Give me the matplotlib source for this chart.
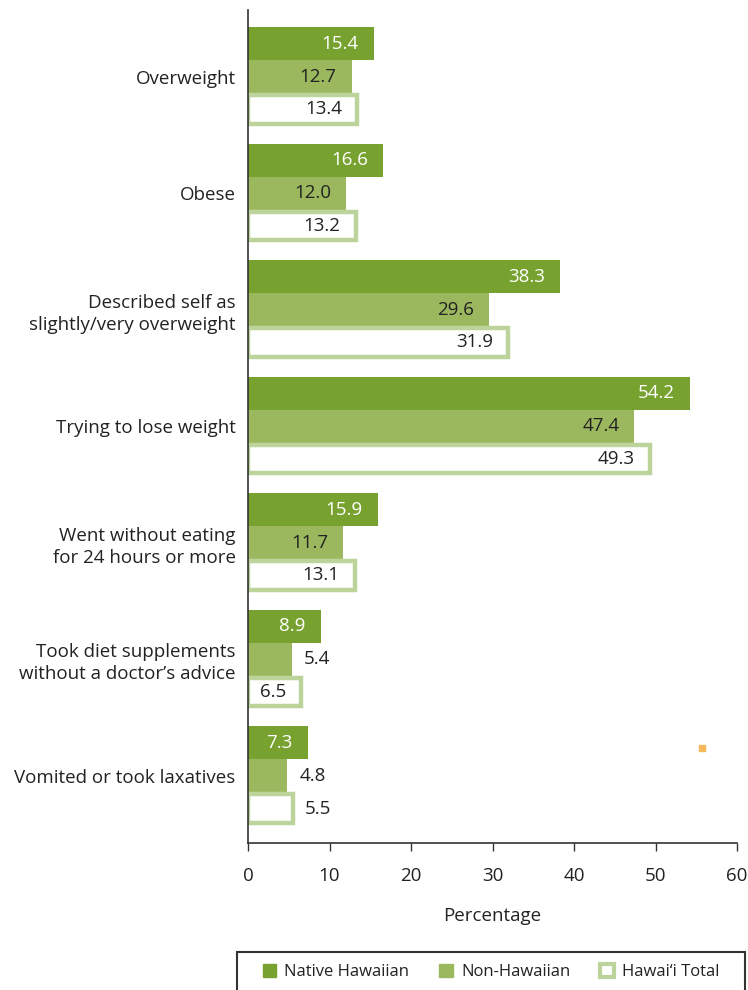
import matplotlib.pyplot as plt
from matplotlib.patches import Patch, Rectangle
from matplotlib.transforms import offset_copy

plt.rcParams['font.family'] = ['Open Sans', 'DejaVu Sans']

categories = ["Overweight", "Obese", "Described self as\nslightly/very overweight",
              "Trying to lose weight", "Went without eating\nfor 24 hours or more",
              "Took diet supplements\nwithout a doctor\u2019s advice", "Vomited or took laxatives"]
native = [15.4, 16.6, 38.3, 54.2, 15.9, 8.9, 7.3]
non_hawaiian = [12.7, 12.0, 29.6, 47.4, 11.7, 5.4, 4.8]
total = [13.4, 13.2, 31.9, 49.3, 13.1, 6.5, 5.5]
series_names = ["Native Hawaiian", "Non-Hawaiian", "Hawai\u2018i Total"]

C_NATIVE = "#78a22f"
C_NON = "#9cb85f"
C_TOTAL = "#bdd39c"
TXT = "#222222"
FS = 13.5

fig = plt.figure(figsize=(7.48, 9.90), dpi=100)
ax = fig.add_axes([0.3316, 0.1485, 0.6537, 0.8414])

h = 0.283
ys = list(range(len(categories)))

def label(ax, x, y, s, color, inside):
    if inside:
        tr = offset_copy(ax.transData, fig=fig, x=-15, y=0, units='dots')
        ax.text(x, y, s, transform=tr, ha='right', va='center', color=color, fontsize=FS)
    else:
        tr = offset_copy(ax.transData, fig=fig, x=12, y=0, units='dots')
        ax.text(x, y, s, transform=tr, ha='left', va='center', color=TXT, fontsize=FS)

for i in ys:
    y1, y2, y3 = i - h, i, i + h
    ax.barh(y1, native[i], height=h, color=C_NATIVE, zorder=2)
    ax.barh(y2, non_hawaiian[i], height=h, color=C_NON, zorder=2)
    ax.barh(y3, total[i], height=h - 0.035, color="white", edgecolor=C_TOTAL, linewidth=3.2, zorder=2)
    label(ax, native[i], y1, f"{native[i]:.1f}", "white", True)
    label(ax, non_hawaiian[i], y2, f"{non_hawaiian[i]:.1f}", TXT, non_hawaiian[i] > 6)
    label(ax, total[i], y3, f"{total[i]:.1f}", TXT, total[i] > 6)

ax.set_ylim(len(categories) - 1 + 0.579, -0.571)
ax.set_xlim(0, 60)
ax.set_yticks(ys)
ax.set_yticklabels(categories, fontsize=FS, color=TXT, ha='right', multialignment='right',
                   linespacing=1.3)
ax.tick_params(axis='y', length=0, pad=9)
ax.tick_params(axis='x', length=6, width=1, colors="#333333", labelsize=FS, pad=11, labelcolor=TXT)
ax.set_xticks(range(0, 61, 10))
ax.set_xlabel("Percentage", fontsize=FS, color=TXT, labelpad=16)
for s in ['top', 'right']:
    ax.spines[s].set_visible(False)
for s in ['left', 'bottom']:
    ax.spines[s].set_color("#333333")
    ax.spines[s].set_linewidth(1.2)

# legend box
fig.patches.append(Rectangle((237 / 748, -0.01), (745 - 237) / 748, (1 - 952 / 990) + 0.01,
                             transform=fig.transFigure, fill=False, edgecolor="#333333",
                             linewidth=1.5))
handles = [Patch(facecolor=C_NATIVE, edgecolor=C_NATIVE),
           Patch(facecolor=C_NON, edgecolor=C_NON),
           Patch(facecolor="white", edgecolor=C_TOTAL, linewidth=3)]
fig.legend(handles, series_names, loc='center', bbox_to_anchor=(491 / 748, 1 - 972 / 990),
           ncol=3, frameon=False, fontsize=12, handlelength=0.8, handleheight=0.8,
           handletextpad=0.5, columnspacing=1.8, labelcolor=TXT)

# small orange mark
fig.patches.append(Rectangle((699 / 748, 1 - 751 / 990), 6 / 748, 6 / 990,
                             transform=fig.transFigure, color="#f5b85a"))

fig.savefig("out.png", dpi=100)
